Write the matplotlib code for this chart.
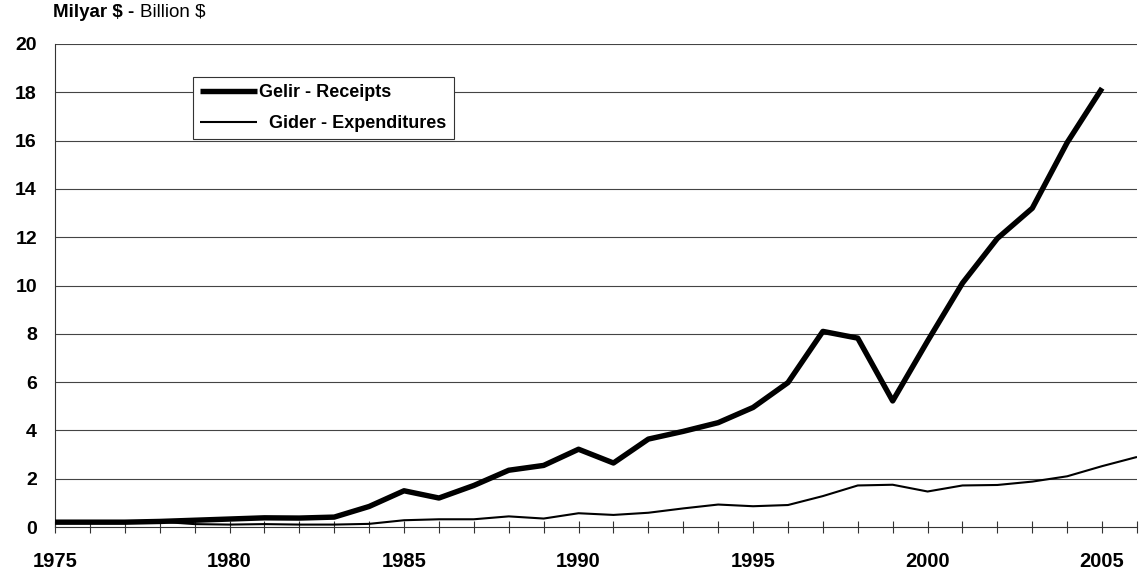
import matplotlib
matplotlib.use("Agg")
import matplotlib.pyplot as plt

plt.rcParams['font.family'] = ['Liberation Sans', 'DejaVu Sans']

# veriler - milyar $
YEARS = list(range(1975, 2007))
GELIR_YEARS = list(range(1975, 2006))
GELIR = [0.2, 0.2, 0.2, 0.23, 0.28, 0.33, 0.38, 0.37, 0.41, 0.85,
         1.5, 1.2, 1.72, 2.35, 2.55, 3.22, 2.65, 3.64, 3.96, 4.32,
         4.95, 5.98, 8.1, 7.82, 5.22, 7.7, 10.1, 11.95, 13.2, 15.92,
         18.17]
GIDER = [0.2, 0.18, 0.2, 0.22, 0.12, 0.1, 0.12, 0.1, 0.1, 0.13,
         0.28, 0.32, 0.32, 0.44, 0.35, 0.57, 0.5, 0.59, 0.77, 0.93,
         0.86, 0.91, 1.28, 1.72, 1.75, 1.47, 1.72, 1.74, 1.88, 2.1,
         2.52, 2.9]
Y_TICKS = list(range(0, 21, 2))
X_LABELS = [str(y) if y % 5 == 0 else "" for y in YEARS]

W, H = 1140, 578
fig = plt.figure(figsize=(W / 100, H / 100), dpi=100)
ax = fig.add_axes([55 / W, 1 - 527 / H, (1137 - 55) / W, (527 - 44) / H])

ax.plot(GELIR_YEARS, GELIR, color='black', lw=3.9, solid_joinstyle='round',
        solid_capstyle='butt', label='Gelir - Receipts', zorder=3)
ax.plot(YEARS, GIDER, color='black', lw=1.5, solid_joinstyle='round',
        solid_capstyle='butt', label='  Gider - Expenditures', zorder=3)

ax.set_xlim(1975, 2006)
ax.set_ylim(0, 20)
ax.set_yticks(Y_TICKS)
ax.set_yticklabels([str(v) for v in Y_TICKS], fontsize=14, fontweight='bold')
ax.set_xticks(YEARS)
ax.set_xticklabels(X_LABELS, fontsize=14.5, fontweight='bold')
ax.tick_params(axis='y', length=0, pad=13)
ax.tick_params(axis='x', direction='inout', length=8.5, width=0.8,
               color='#333333', pad=14)

for v in Y_TICKS[1:]:
    ax.axhline(v, color='#444444', lw=0.8, zorder=1)

for s in ['top', 'right']:
    ax.spines[s].set_visible(False)
ax.spines['left'].set_color('#333333')
ax.spines['bottom'].set_color('#333333')
ax.spines['left'].set_linewidth(0.8)
ax.spines['bottom'].set_linewidth(0.8)

leg = ax.legend(loc='upper left', bbox_to_anchor=((193 - 55) / (1137 - 55), 1 - (77 - 44) / (527 - 44)),
                frameon=True, fancybox=False, framealpha=1, edgecolor='#333333',
                prop={'weight': 'bold', 'size': 13}, handlelength=3.15,
                handletextpad=0.15, borderaxespad=0, borderpad=0.38, labelspacing=0.78)
leg.get_frame().set_linewidth(0.8)

# baslik: kalin + normal kisim
t1 = fig.text(53 / W, 1 - 17 / H, 'Milyar $ - ', fontsize=13.5, fontweight='bold', va='baseline')
fig.canvas.draw()
bb = t1.get_window_extent(fig.canvas.get_renderer())
fig.text(bb.x1 / W, 1 - 17 / H, 'Billion $', fontsize=13.5, va='baseline')

fig.savefig('out.png', dpi=100)
